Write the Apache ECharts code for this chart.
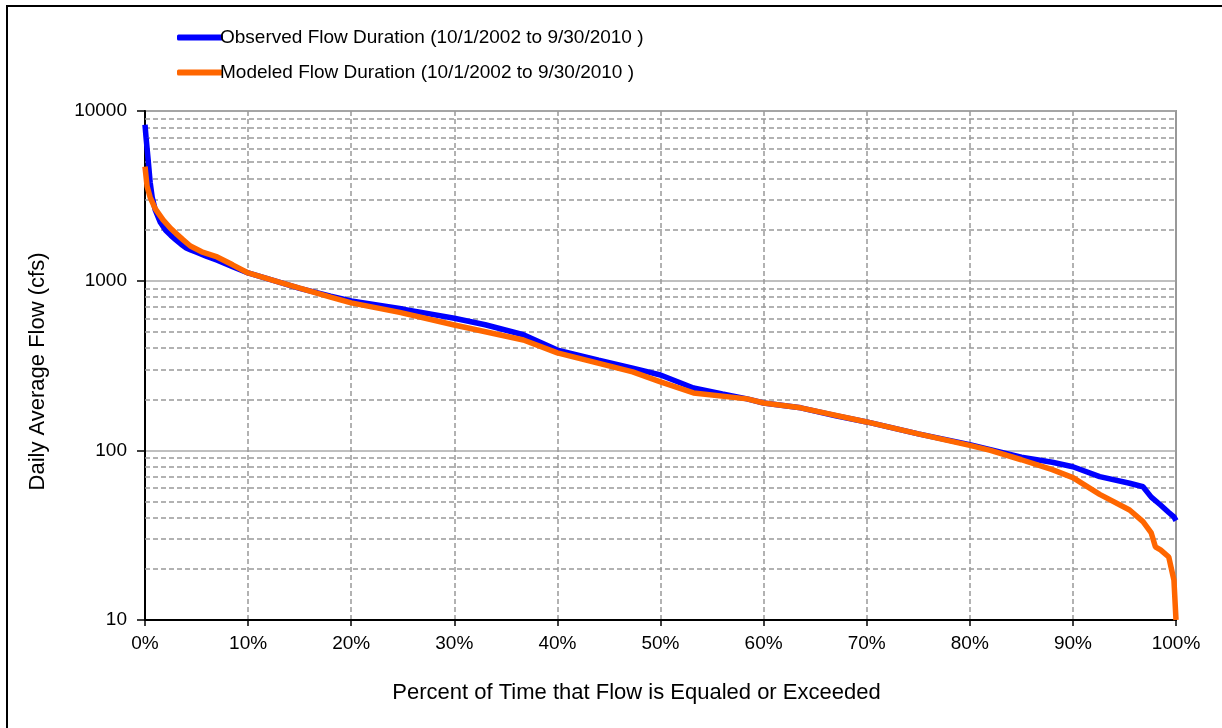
<!DOCTYPE html>
<html>
<head>
<meta charset="utf-8">
<script src="https://cdn.jsdelivr.net/npm/echarts@6/dist/echarts.min.js"></script>
<style>
html,body{margin:0;padding:0;background:#fff;}
#chart{width:1222px;height:728px;}
</style>
</head>
<body>
<div id="chart"></div>
<script>
// Percent of time exceeded (%) and flow (cfs)
const observedPct = [0, 0.1, 0.3, 0.5, 0.7, 1, 1.5, 2, 2.5, 3, 3.5, 4, 4.5, 5, 6, 7, 8.5, 10, 13, 15, 18, 20, 25, 30, 33, 36.7, 40, 44, 47.3, 50, 53.2, 56, 58.4, 60, 63.6, 67, 70, 75, 80, 82, 85, 88, 90, 92.6, 95.5, 96.8, 97.6, 98.5, 99.3, 99.8, 100];
const observedFlow = [8300, 7000, 5200, 3800, 3100, 2600, 2200, 1980, 1850, 1740, 1640, 1560, 1510, 1470, 1390, 1320, 1210, 1110, 980, 900, 810, 760, 680, 600, 550, 480, 390, 340, 305, 278, 233, 215, 201, 190, 178, 160, 147, 125, 108, 101, 91, 85, 80, 70, 64, 61, 53, 47.6, 43, 40.5, 38.5];
const modeledPct = [0, 0.2, 0.5, 1, 1.75, 2.5, 3, 3.7, 4.4, 5.5, 7, 8.5, 10, 13, 18, 20, 24.7, 30, 36.7, 40, 47.3, 50, 53.2, 58.4, 60, 63.6, 70, 75, 80, 82, 85, 88, 90, 92.6, 95.5, 96.8, 97.6, 98, 98.5, 99.3, 99.8, 100];
const modeledFlow = [4700, 3600, 3100, 2650, 2280, 2030, 1900, 1740, 1600, 1480, 1380, 1240, 1110, 980, 800, 740, 650, 548, 447, 375, 290, 253, 218, 201, 190, 178, 147, 125, 107, 100, 88, 77, 69, 55, 44.5, 38, 32.6, 27, 25.9, 23.5, 17.2, 10];
const seriesNames = ['Observed Flow Duration (10/1/2002 to 9/30/2010 )', 'Modeled Flow Duration (10/1/2002 to 9/30/2010 )'];
const xTitle = 'Percent of Time that Flow is Equaled or Exceeded';
const yTitle = 'Daily Average Flow (cfs)';
const decades = [10, 100, 1000];
const minorMultipliers = [2, 3, 4, 5, 6, 7, 8, 9];

const minorLines = [];
decades.forEach(d => minorMultipliers.forEach(k => minorLines.push({ yAxis: d * k })));

const font = 'Arial, "Liberation Sans", sans-serif';
const chart = echarts.init(document.getElementById('chart'));
chart.setOption({
  animation: false,
  backgroundColor: '#fff',
  graphic: [{
    type: 'rect', shape: { x: 7, y: 6, width: 1240, height: 760 },
    style: { fill: null, stroke: '#000', lineWidth: 2 }, silent: true, z: 0
  }],
  legend: {
    orient: 'vertical', left: 172, top: 23,
    itemWidth: 46, itemHeight: 6, itemGap: 16,
    icon: 'roundRect',
    textStyle: { fontFamily: font, fontSize: 19, color: '#000', lineHeight: 18, padding: [0, 0, 0, -8] },
    data: seriesNames
  },
  grid: {
    left: 145, right: 46, top: 111, bottom: 108,
    show: true, borderColor: '#999', borderWidth: 2, backgroundColor: 'transparent'
  },
  xAxis: {
    type: 'value', min: 0, max: 100, interval: 10,
    name: xTitle, nameLocation: 'middle', nameGap: 62,
    nameTextStyle: { fontFamily: font, fontSize: 22, color: '#000', padding: [0, 48, 0, 0] },
    axisLine: { show: true, lineStyle: { color: '#000', width: 2 } },
    axisTick: { show: true, length: 6, lineStyle: { color: '#000', width: 1.5 } },
    axisLabel: { formatter: '{value}%', fontFamily: font, fontSize: 19, color: '#000', margin: 14 },
    splitLine: { show: true, lineStyle: { color: '#999', width: 1.5, type: [5, 3] } }
  },
  yAxis: {
    type: 'log', logBase: 10, min: 10, max: 10000,
    name: yTitle, nameLocation: 'middle', nameGap: 96, nameRotate: 90,
    nameTextStyle: { fontFamily: font, fontSize: 22, color: '#000', padding: [0, 12, 0, 0] },
    axisLine: { show: true, lineStyle: { color: '#000', width: 2 } },
    axisTick: { show: true, length: 8, lineStyle: { color: '#000', width: 1.5 } },
    axisLabel: { fontFamily: font, fontSize: 19, color: '#000', margin: 18, formatter: v => String(Math.round(v)) },
    splitLine: { show: true, lineStyle: { color: '#aaa', width: 1.5 } }
  },
  series: [
    {
      name: 'minor', type: 'line', data: [], silent: true, z: 1,
      markLine: {
        silent: true, symbol: 'none', label: { show: false }, animation: false, z: 1,
        lineStyle: { color: '#999', width: 1.5, type: [5, 3] },
        data: minorLines
      }
    },
    {
      name: seriesNames[0], type: 'line', showSymbol: false, smooth: false,
      data: observedPct.map((p, i) => [p, observedFlow[i]]),
      lineStyle: { color: '#0000ff', width: 5.5 }, itemStyle: { color: '#0000ff' }, z: 3
    },
    {
      name: seriesNames[1], type: 'line', showSymbol: false, smooth: false,
      data: modeledPct.map((p, i) => [p, modeledFlow[i]]),
      lineStyle: { color: '#ff6600', width: 5.5 }, itemStyle: { color: '#ff6600' }, z: 4
    }
  ]
});
</script>
</body>
</html>
